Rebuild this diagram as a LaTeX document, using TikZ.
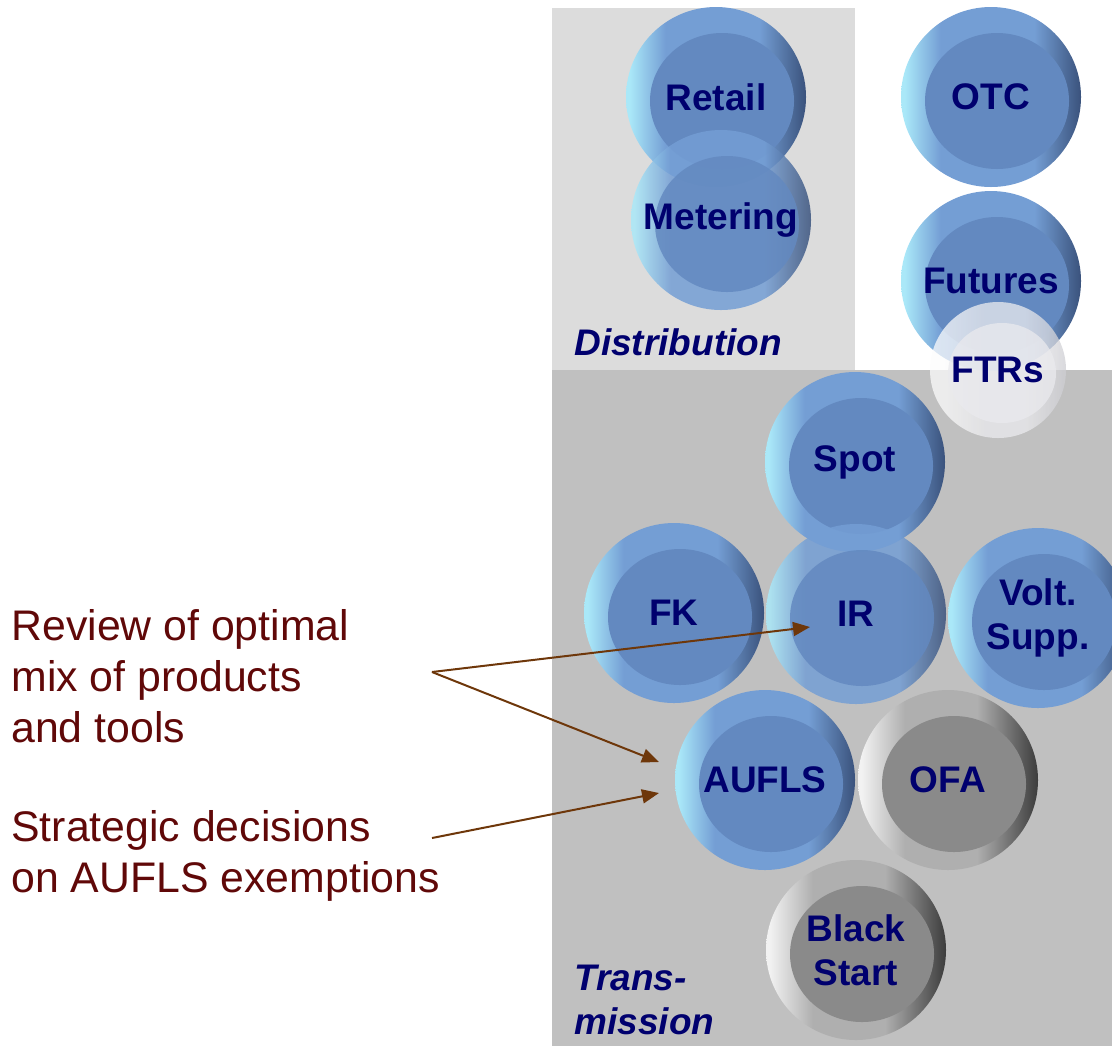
\documentclass[tikz,border=0pt]{standalone}
\usepackage{fontspec}
\setmainfont{Liberation Sans}
\usetikzlibrary{arrows.meta, positioning, calc}
\definecolor{distpane}{RGB}{220,220,220}
\definecolor{transpane}{RGB}{192,192,192}
\definecolor{labelnavy}{RGB}{0,0,110}
\definecolor{notered}{RGB}{96,8,8}
\definecolor{arrowbrown}{RGB}{110,55,10}
\definecolor{bluerimlight}{RGB}{170,232,248}
\definecolor{bluerimmid}{RGB}{116,158,212}
\definecolor{bluerimdark}{RGB}{58,82,124}
\definecolor{bluetop}{RGB}{99,137,192}
\definecolor{grayrimlight}{RGB}{242,242,242}
\definecolor{grayrimmid}{RGB}{175,175,175}
\definecolor{grayrimdark}{RGB}{60,60,60}
\definecolor{graytop}{RGB}{138,138,138}
\definecolor{whiterimlight}{RGB}{252,252,252}
\definecolor{whiterimmid}{RGB}{236,236,239}
\definecolor{whiterimdark}{RGB}{205,205,210}
\definecolor{whitetop}{RGB}{234,234,238}
\pgfdeclarehorizontalshading{bluerim}{100bp}{color(0bp)=(bluerimlight); color(26bp)=(bluerimlight);
    color(36bp)=(bluerimmid); color(62bp)=(bluerimmid); color(75bp)=(bluerimdark); color(100bp)=(bluerimdark)}
\pgfdeclarehorizontalshading{grayrim}{100bp}{color(0bp)=(grayrimlight); color(26bp)=(grayrimlight);
    color(38bp)=(grayrimmid); color(58bp)=(grayrimmid); color(75bp)=(grayrimdark); color(100bp)=(grayrimdark)}
\pgfdeclarehorizontalshading{whiterim}{100bp}{color(0bp)=(whiterimlight); color(30bp)=(whiterimlight);
    color(45bp)=(whiterimmid); color(60bp)=(whiterimmid); color(75bp)=(whiterimdark); color(100bp)=(whiterimdark)}

\begin{document}
\begin{tikzpicture}[
    x=0.5pt, y=-0.5pt,
    ball/.style={circle, minimum size=90pt, inner sep=0pt, align=center, text=labelnavy,
        font=\fontsize{18.5}{22}\selectfont\bfseries},
    blueball/.style={ball, shading=bluerim,
        path picture={\fill[bluetop] ([shift={(6,4)}]path picture bounding box.center) ellipse [x radius=36pt, y radius=34pt];}},
    grayball/.style={ball, shading=grayrim,
        path picture={\fill[graytop] ([shift={(6,4)}]path picture bounding box.center) ellipse [x radius=36pt, y radius=34pt];}},
    whiteball/.style={ball, minimum size=68pt, shading=whiterim,
        path picture={\fill[whitetop] ([shift={(4,3)}]path picture bounding box.center) ellipse [x radius=27pt, y radius=25pt];}},
    seethrough/.style={fill opacity=0.85, text opacity=1},
    panetitle/.style={inner sep=0pt, text=labelnavy, font=\fontsize{18.5}{22}\selectfont\bfseries\itshape},
    note/.style={inner sep=0pt, anchor=west, align=left, text=notered, font=\fontsize{21.4}{25.5}\selectfont},
    notearrow/.style={-{Triangle[length=8.5pt, width=7pt]}, line width=1pt, draw=arrowbrown}
]
    \useasboundingbox (0,0) rectangle (1112,1046);

    % Panels
    \fill[distpane] (552,8) rectangle (855,370);
    \fill[transpane] (552,370) rectangle (1112,1046);
    \node[panetitle, anchor=west] (distlabel) at (574,342) {Distribution};
    \node[panetitle, anchor=west, align=left] (translabel) at (574,1000) {Trans-\\mission};

    % Distribution balls
    \node[blueball] (retail) at (716,97) {Retail};
    \node[blueball, seethrough] (metering) at (721,220) {Metering};

    % Contract balls
    \node[blueball] (otc) at (991,97) {OTC};
    \node[blueball] (futures) at (991,281) {Futures};
    \node[whiteball, fill opacity=0.75, text opacity=1] (ftrs) at (998,370) {FTRs};

    % Transmission balls
    \node[blueball] (spot) at (855,462) {Spot};
    \node[blueball] (fk) at (674,613) {FK};
    \node[blueball, seethrough] (ir) at (856,614) {IR};
    \node[blueball] (volt) at (1038,618) {Volt.\\Supp.};
    \node[blueball] (aufls) at (765,780) {AUFLS};
    \node[grayball] (ofa) at (948,780) {OFA};
    \node[grayball] (black) at (856,950) {Black\\Start};

    % Notes on the left
    \node[note] (review) at (11,676) {Review of optimal\\mix of products\\and tools};
    \node[note] (strategic) at (11,856) {Strategic decisions\\on AUFLS exemptions};

    % Arrows from notes to balls
    \coordinate (reviewfrom) at (432,672);
    \coordinate (strategicfrom) at (432,838);
    \coordinate (irpoint) at ([shift={(-46,13)}]ir.center);
    \coordinate (auflsupper) at ([shift={(-106,-18)}]aufls.center);
    \coordinate (auflslower) at ([shift={(-106,13)}]aufls.center);
    \draw[notearrow] (reviewfrom) -- (irpoint);
    \draw[notearrow] (reviewfrom) -- (auflsupper);
    \draw[notearrow] (strategicfrom) -- (auflslower);

\end{tikzpicture}
\end{document}
